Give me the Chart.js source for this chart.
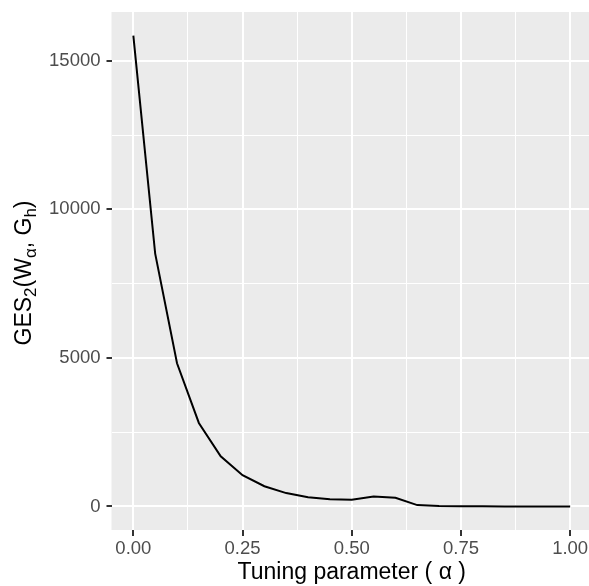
<!DOCTYPE html>
<html>
<head>
<meta charset="utf-8">
<script src="https://cdn.jsdelivr.net/npm/chart.js@4/dist/chart.umd.min.js"></script>
<style>
html,body{margin:0;padding:0;overflow:hidden;background:#fff;}
#wrap{width:603px;height:586px;}
</style>
</head>
<body>
<div id="wrap"><canvas id="c" width="603" height="586"></canvas></div>
<script>
const alphas = [0.00,0.05,0.10,0.15,0.20,0.25,0.30,0.35,0.40,0.45,0.50,0.55,0.60,0.65,0.70,0.75,0.80,0.85,0.90,0.95,1.00];
const gesValues = [15850,8510,4820,2810,1690,1050,680,450,310,245,225,335,290,45,12,5,3,2,1,1,0];
const xTicks = [0,0.125,0.25,0.375,0.5,0.625,0.75,0.875,1.0];
const xMajor = [0,0.25,0.5,0.75,1.0];
const yTicks = [0,2500,5000,7500,10000,12500,15000];
const yMajor = [0,5000,10000,15000];

const FONT = '"Liberation Sans", Arial, Helvetica, sans-serif';
const yLo = Math.min(...gesValues), yHi = Math.max(...gesValues);
const yPad = (yHi - yLo) * 0.05;
const xLo = Math.min(...alphas), xHi = Math.max(...alphas);
const xPad = (xHi - xLo) * 0.05;

const isMajor = (arr, v) => arr.some(m => Math.abs(m - v) < 1e-9);

const panelBg = {
  id: 'panelBg',
  beforeDraw(chart) {
    const {ctx, chartArea: a} = chart;
    ctx.save();
    ctx.fillStyle = '#EBEBEB';
    ctx.fillRect(a.left, a.top, a.right - a.left, a.bottom - a.top);
    ctx.restore();
  }
};

const yTitle = {
  id: 'yTitle',
  afterDraw(chart) {
    const {ctx, chartArea: a} = chart;
    const big = 23, small = 17;
    const parts = [
      ['GES', big, 0], ['2', small, 5], ['(W', big, 0], ['\u03B1', small, 5],
      [', G', big, 0], ['h', small, 5], [')', big, 0]
    ];
    ctx.save();
    let total = 0;
    for (const [t, s] of parts) { ctx.font = s + 'px ' + FONT; total += ctx.measureText(t).width; }
    const cy = (a.top + a.bottom) / 2 + 2;
    ctx.translate(30.5, cy);
    ctx.rotate(-Math.PI / 2);
    ctx.fillStyle = '#000';
    ctx.textBaseline = 'alphabetic';
    let x = -total / 2;
    for (const [t, s, dy] of parts) {
      ctx.font = s + 'px ' + FONT;
      ctx.fillText(t, x, dy);
      x += ctx.measureText(t).width;
    }
    ctx.restore();
  }
};

new Chart(document.getElementById('c'), {
  type: 'line',
  data: {
    datasets: [{
      data: alphas.map((a, i) => ({x: a, y: gesValues[i]})),
      borderColor: '#000',
      borderWidth: 2,
      pointRadius: 0,
      tension: 0,
      fill: false
    }]
  },
  options: {
    responsive: false,
    animation: false,
    layout: {padding: {top: 12, right: 11, left: 0, bottom: 0}},
    plugins: {legend: {display: false}, tooltip: {enabled: false}},
    scales: {
      x: {
        type: 'linear',
        min: xLo - xPad,
        max: xHi + xPad,
        afterBuildTicks(s) { s.ticks = xTicks.map(v => ({value: v})); },
        afterFit(s) { s.height = 56; s.paddingLeft = 0; s.paddingRight = 0; },
        border: {display: false},
        grid: {
          color: '#FFFFFF',
          lineWidth: c => isMajor(xMajor, c.tick.value) ? 2 : 1,
          drawTicks: true,
          tickLength: 6,
          tickWidth: 2,
          tickColor: c => isMajor(xMajor, c.tick.value) ? '#333333' : 'rgba(0,0,0,0)'
        },
        ticks: {
          autoSkip: false,
          maxRotation: 0,
          padding: 2,
          color: '#4D4D4D',
          font: {family: FONT, size: 18.5},
          callback: v => isMajor(xMajor, v) ? v.toFixed(2) : ''
        },
        title: {
          display: true,
          text: 'Tuning parameter ( \u03B1 )',
          color: '#000',
          font: {family: FONT, size: 23},
          padding: {top: 0, bottom: 0}
        }
      },
      y: {
        type: 'linear',
        min: yLo - yPad,
        max: yHi + yPad,
        afterBuildTicks(s) { s.ticks = yTicks.map(v => ({value: v})); },
        afterFit(s) { s.width = 111.5; s.paddingTop = 0; s.paddingBottom = 0; },
        border: {display: false},
        grid: {
          color: '#FFFFFF',
          lineWidth: c => isMajor(yMajor, c.tick.value) ? 2 : 1,
          drawTicks: true,
          tickLength: 5,
          tickWidth: 2,
          tickColor: c => isMajor(yMajor, c.tick.value) ? '#333333' : 'rgba(0,0,0,0)'
        },
        ticks: {
          autoSkip: false,
          padding: 6,
          color: '#4D4D4D',
          font: {family: FONT, size: 18.5},
          callback: v => isMajor(yMajor, v) ? String(v) : ''
        }
      }
    }
  },
  plugins: [panelBg, yTitle]
});
</script>
</body>
</html>
